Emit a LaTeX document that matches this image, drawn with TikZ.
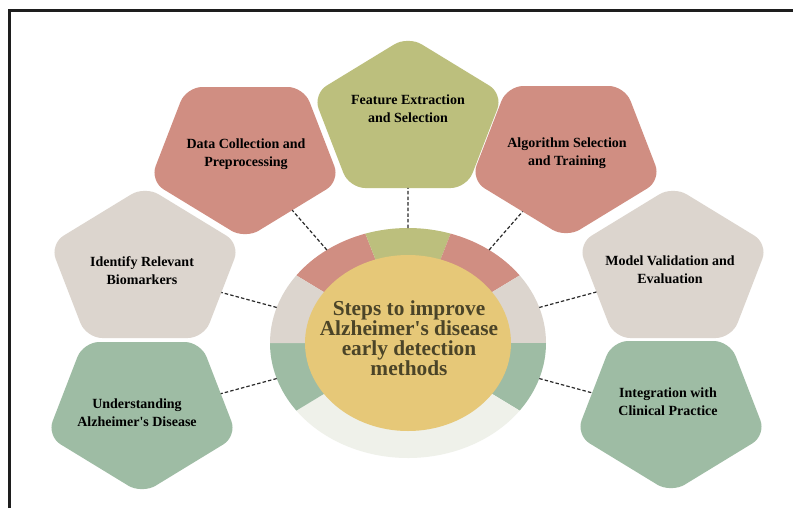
\documentclass[tikz,border=0pt]{standalone}
\usepackage{fontspec}
\setmainfont{Liberation Serif}
\usetikzlibrary{calc,intersections,shapes.geometric}

\definecolor{salmon}{HTML}{D08E82}
\definecolor{olive}{HTML}{BCBF7D}
\definecolor{sand}{HTML}{DCD5CE}
\definecolor{sage}{HTML}{9EBCA4}
\definecolor{mist}{HTML}{EFF1EA}
\definecolor{gold}{HTML}{E6C878}
\definecolor{titletext}{HTML}{4B4428}
\definecolor{frameline}{HTML}{1E1E1E}
\definecolor{linkline}{HTML}{2A2A2A}

% rounded pentagon: name, centre x, centre y, orientation (1 = point up, -1 = point down), fill
\newcommand{\roundpenta}[5]{%
  \path[fill=#5, name path=#1, shift={(#2,#3)}, yscale=#4, rounded corners=12pt]
    (0,68) -- (-58.8,68) -- (-95.1,-26) -- (0,-84) -- (95.1,-26) -- (58.8,68) -- cycle;
}

% dashed spoke: step name, angle on the ring
\newcommand{\spoke}[2]{%
  \coordinate (r-#1) at ($(O)+(#2:138 and 115)$);
  \path[name path=ray-#1] (O) -- ($(O)!2!(r-#1)$);
  \path[name intersections={of=ray-#1 and p-#1, by=e-#1}];
  \draw[link] (r-#1) -- (e-#1);
}

\tikzset{
  steplabel/.style={align=center, text=black, inner sep=0pt,
    font=\fontsize{10.5}{13.5}\selectfont\bfseries},
  hubtitle/.style={ellipse, fill=gold, inner sep=0pt,
    minimum width=154.5pt, minimum height=132pt},
  link/.style={draw=linkline, line width=0.9pt, dash pattern=on 2.6pt off 1.6pt},
  sector/.style={x radius=138, y radius=115}
}

\begin{document}
\begin{tikzpicture}[x=0.75pt,y=-0.75pt]
  \useasboundingbox (0,0) rectangle (793,508);
  \fill[white] (0,0) rectangle (793,508);

  % outer frame (top and left edges)
  \draw[frameline, line width=1.6pt] (9.5,508) -- (9.5,10.5) -- (793,10.5);

  % the seven step pentagons
  \roundpenta{p-feat}{408}{120}{1}{olive}
  \roundpenta{p-data}{245}{155}{-1}{salmon}
  \roundpenta{p-algo}{566}{154}{-1}{salmon}
  \roundpenta{p-bio}{145}{270}{1}{sand}
  \roundpenta{p-model}{673}{270}{1}{sand}
  \roundpenta{p-und}{142}{410}{-1}{sage}
  \roundpenta{p-integ}{671}{409}{-1}{sage}

  % segmented ring around the hub
  \coordinate (O) at (408,343);
  \fill[salmon] (O) -- ++(-108:138 and 115) arc[start angle=-108, end angle=-144, sector] -- cycle;
  \fill[olive]  (O) -- ++(-72:138 and 115)  arc[start angle=-72,  end angle=-108, sector] -- cycle;
  \fill[salmon] (O) -- ++(-36:138 and 115)  arc[start angle=-36,  end angle=-72,  sector] -- cycle;
  \fill[sand]   (O) -- ++(0:138 and 115)    arc[start angle=0,    end angle=-36,  sector] -- cycle;
  \fill[sage]   (O) -- ++(36:138 and 115)   arc[start angle=36,   end angle=0,    sector] -- cycle;
  \fill[mist]   (O) -- ++(144:138 and 115)  arc[start angle=144,  end angle=36,   sector] -- cycle;
  \fill[sage]   (O) -- ++(180:138 and 115)  arc[start angle=180,  end angle=144,  sector] -- cycle;
  \fill[sand]   (O) -- ++(216:138 and 115)  arc[start angle=216,  end angle=180,  sector] -- cycle;

  % central hub
  \node[hubtitle] (hub) at (O) {};
  \node[align=center, text=titletext, inner sep=0pt,
        font=\fontsize{16}{15}\selectfont\bfseries] (title) at (409,338)
        {Steps to improve\\Alzheimer\textquotesingle s disease\\early detection\\methods};

  % step labels
  \node[steplabel] (t-feat)  at (408,109) {Feature Extraction\\and Selection};
  \node[steplabel] (t-data)  at (246,154) {Data Collection and\\Preprocessing};
  \node[steplabel] (t-algo)  at (567,153) {Algorithm Selection\\and Training};
  \node[steplabel] (t-bio)   at (142,271) {Identify Relevant\\Biomarkers};
  \node[steplabel] (t-model) at (670,270) {Model Validation and\\Evaluation};
  \node[steplabel] (t-und)   at (137,413) {Understanding\\Alzheimer\textquotesingle s Disease};
  \node[steplabel] (t-integ) at (668,402) {Integration with\\Clinical Practice};

  % dashed spokes from the ring to each pentagon
  \spoke{feat}{-90}
  \spoke{data}{-126}
  \spoke{algo}{-54}
  \spoke{bio}{-162}
  \spoke{model}{-18}
  \spoke{und}{162}
  \spoke{integ}{18}
\end{tikzpicture}
\end{document}
